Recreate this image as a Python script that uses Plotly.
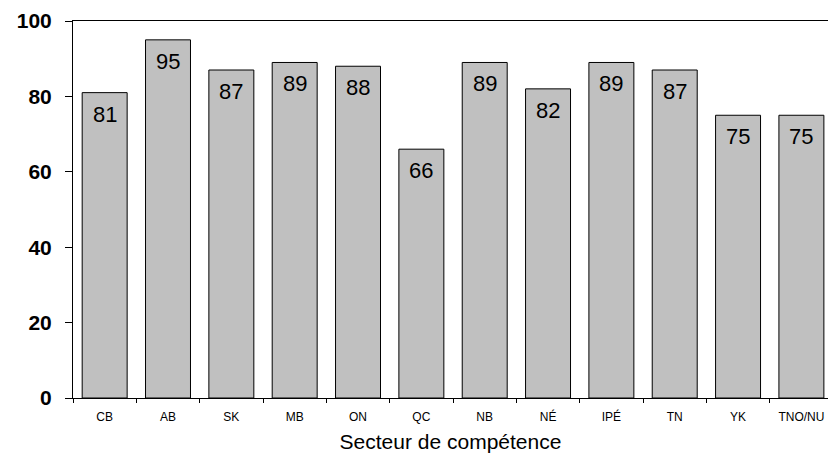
import plotly.graph_objects as go

categories = ["CB", "AB", "SK", "MB", "ON", "QC", "NB", "NÉ", "IPÉ", "TN", "YK", "TNO/NU"]
values = [81, 95, 87, 89, 88, 66, 89, 82, 89, 87, 75, 75]
y_ticks = [0, 20, 40, 60, 80, 100]
x_title = "Secteur de compétence"

FONT = "Liberation Sans, Arial, sans-serif"

fig = go.Figure(go.Bar(
    x=categories, y=values,
    marker=dict(color="#c0c0c0", line=dict(color="#000000", width=1)),
    textposition="none",
))

for c, v in zip(categories, values):
    fig.add_annotation(
        x=c, y=v, text=str(v), showarrow=False,
        yanchor="top", yshift=-7,
        font=dict(family=FONT, size=22, color="#000000"),
    )

fig.update_layout(
    width=828, height=453,
    margin=dict(l=73, r=0, t=21, b=55),
    paper_bgcolor="white", plot_bgcolor="white",
    bargap=0.29, showlegend=False,
    font=dict(family=FONT, color="#000000"),
)
fig.update_xaxes(
    range=[-0.5, 11.42], autorange=False,
    showline=True, linecolor="#000000", linewidth=1, mirror=True,
    ticks="outside", ticklen=4, tickcolor="#000000", tickson="boundaries",
    tickfont=dict(family=FONT, size=12), showgrid=False, ticklabelstandoff=8,
    title=dict(text=x_title, font=dict(family=FONT, size=21), standoff=11),
)
fig.update_yaxes(
    range=[0, 100], autorange=False, tickvals=y_ticks,
    showline=True, linecolor="#000000", linewidth=1,
    ticks="outside", ticklen=7, tickcolor="#000000",
    tickfont=dict(family=FONT, size=21, weight="bold"),
    ticklabelstandoff=9, showgrid=False, zeroline=False,
)

fig.write_html("out.html", config={"displayModeBar": False},
               post_script="document.body.style.margin='0';document.body.style.padding='0';")
